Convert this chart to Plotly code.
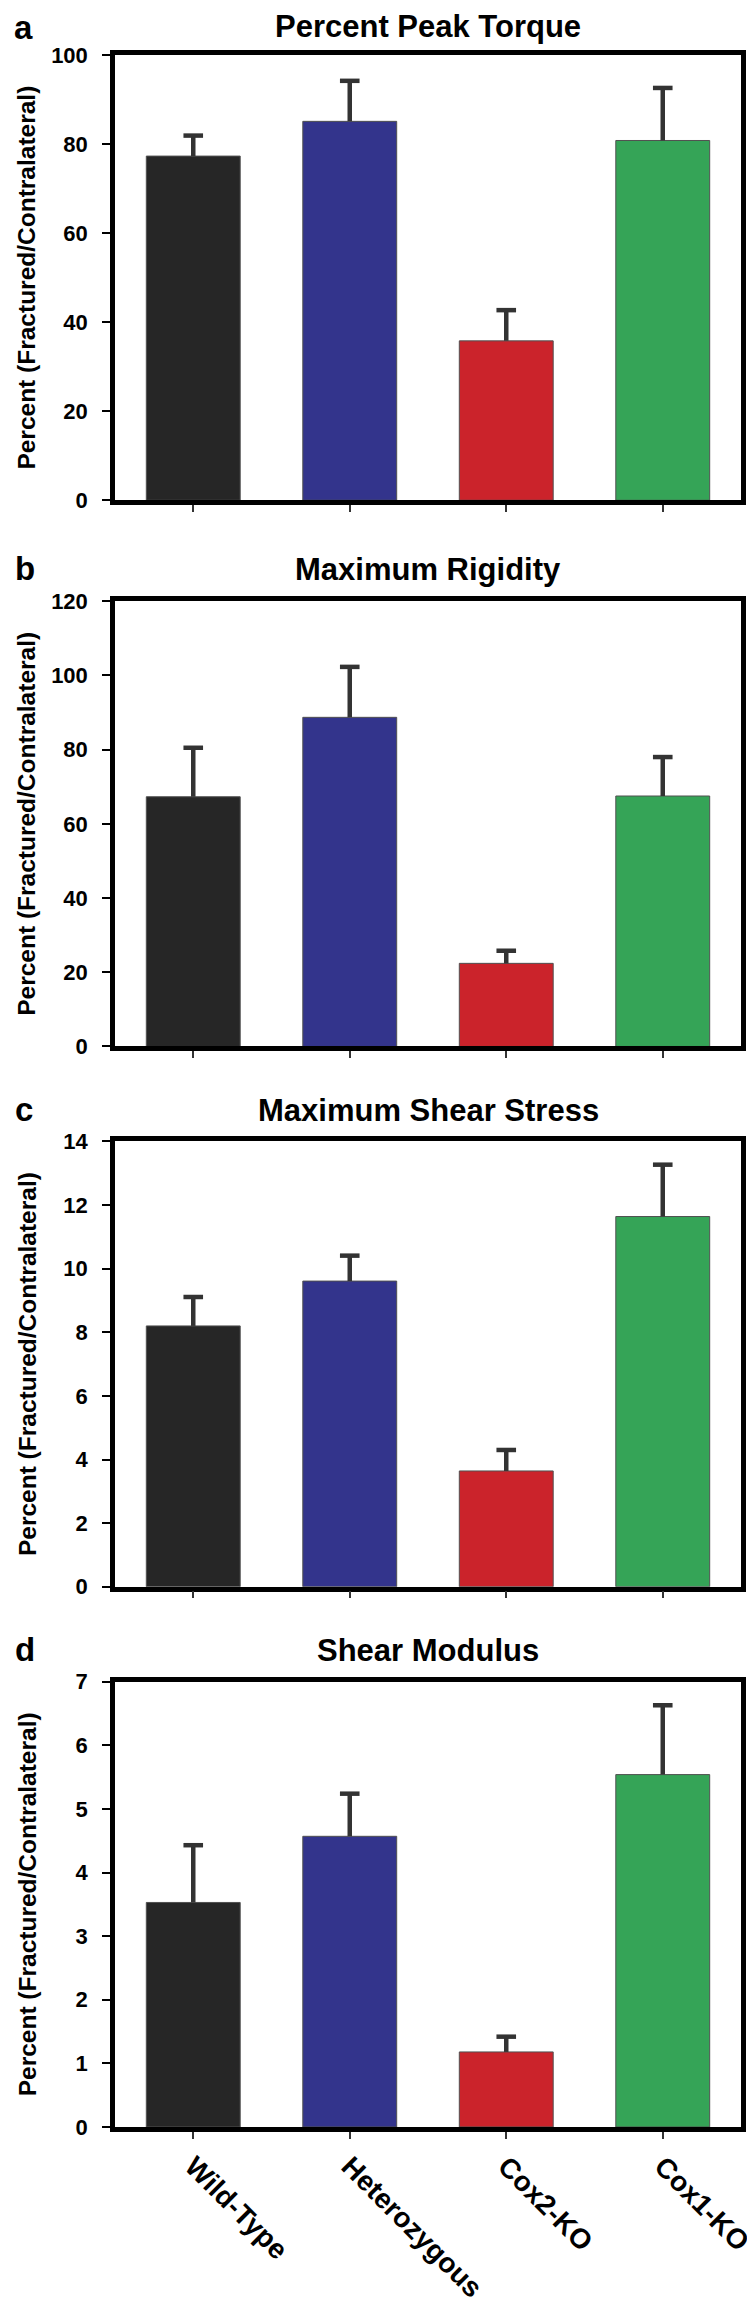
import plotly.graph_objects as go

categories = ["Wild-Type", "Heterozygous", "Cox2-KO", "Cox1-KO"]
bar_colors = ["#262626", "#33348C", "#CB232B", "#35A457"]

panel_letters = ["a", "b", "c", "d"]
panel_titles = ["Percent Peak Torque", "Maximum Rigidity", "Maximum Shear Stress", "Shear Modulus"]

torque_mean = [77.3, 85.1, 35.8, 80.8]
torque_err = [4.6, 9.1, 6.9, 11.8]

rigidity_mean = [67.3, 88.7, 22.4, 67.5]
rigidity_err = [13.2, 13.6, 3.4, 10.5]

shear_stress_mean = [8.2, 9.61, 3.64, 11.64]
shear_stress_err = [0.91, 0.80, 0.66, 1.63]

shear_modulus_mean = [3.53, 4.57, 1.18, 5.54]
shear_modulus_err = [0.90, 0.67, 0.24, 1.09]

y_max = [100, 120, 14, 7]
y_dtick = [20, 20, 2, 1]
y_title = "Percent (Fractured/Contralateral)"

means = [torque_mean, rigidity_mean, shear_stress_mean, shear_modulus_mean]
errs = [torque_err, rigidity_err, shear_stress_err, shear_modulus_err]

W, HT = 755, 2303
M_T, M_B, M_L, M_R = 47, 162, 107, 8
H = HT - M_T - M_B
PW = W - M_L - M_R
panel_tops = [0, 552, 1098, 1644]
PH = 450

FONT = "Liberation Sans, Arial, Helvetica, sans-serif"
ERR_COLOR = "#333333"

fig = go.Figure()
layout = dict(
    width=W, height=HT,
    margin=dict(t=M_T, b=M_B, l=M_L, r=M_R, pad=0),
    paper_bgcolor="white", plot_bgcolor="white",
    showlegend=False,
    font=dict(family=FONT, color="black"),
)
annotations = []
fig_top = 1 + M_T / H

for i in range(4):
    sfx = "" if i == 0 else str(i + 1)
    top = panel_tops[i]
    dom = [1 - (top + PH) / H, 1 - top / H]
    # bars with the error stem (no caps)
    fig.add_trace(go.Bar(
        x=categories, y=means[i],
        marker=dict(color=bar_colors, line=dict(color="#505050", width=1)),
        width=0.6,
        error_y=dict(type="data", symmetric=False, array=errs[i],
                     arrayminus=[0] * 4, color=ERR_COLOR, thickness=4.5, width=0),
        xaxis="x" + sfx, yaxis="y" + sfx,
    ))
    # caps at the top of each error bar
    tops = [m + e for m, e in zip(means[i], errs[i])]
    fig.add_trace(go.Scatter(
        x=categories, y=tops, mode="markers",
        marker=dict(symbol="line-ew-open", size=14, color=ERR_COLOR,
                    line=dict(color=ERR_COLOR, width=4.5)),
        xaxis="x" + sfx, yaxis="y" + sfx, cliponaxis=False,
    ))
    layout["xaxis" + sfx] = dict(
        domain=[0, 1], anchor="y" + sfx, type="category",
        categoryorder="array", categoryarray=categories,
        range=[-0.5, 3.5],
        showline=True, linecolor="black", linewidth=4.5, mirror=True,
        ticks="outside", ticklen=7, tickwidth=1.5, tickcolor="#333333",
        showgrid=False, zeroline=False,
        showticklabels=(i == 3), tickangle=45,
        tickfont=dict(family=FONT, size=28, color="black", weight="bold"),
    )
    layout["yaxis" + sfx] = dict(
        domain=dom, anchor="x" + sfx,
        range=[0, y_max[i]], dtick=y_dtick[i], tick0=0,
        showline=True, linecolor="black", linewidth=4.5, mirror=True,
        ticks="outside", ticklen=8, tickwidth=2, tickcolor="black",
        showgrid=False, zeroline=False,
        ticklabelstandoff=10,
        tickfont=dict(family=FONT, size=22, color="black", weight="bold"),
    )
    if i == 0:
        title_pos = dict(y=fig_top, yanchor="top", borderpad=0)
        letter_pos = dict(y=fig_top, yanchor="top", borderpad=0)
    else:
        title_pos = dict(y=1 - (top - 12) / H, yanchor="bottom")
        letter_pos = dict(y=1 - (top - 12) / H, yanchor="bottom")
    # panel title
    annotations.append(dict(
        text="<b>%s</b>" % panel_titles[i], xref="paper", yref="paper",
        x=0.5, xanchor="center", showarrow=False,
        font=dict(family=FONT, size=31, color="black"), **title_pos,
    ))
    # panel letter
    annotations.append(dict(
        text="<b>%s</b>" % panel_letters[i], xref="paper", yref="paper",
        x=(3 - M_L) / PW, xanchor="left", showarrow=False,
        font=dict(family=FONT, size=33, color="black"), **letter_pos,
    ))
    # y-axis title
    annotations.append(dict(
        text="<b>%s</b>" % y_title, xref="paper", yref="paper",
        x=(17 - M_L) / PW, y=1 - (top + PH / 2) / H, xanchor="center", yanchor="middle",
        textangle=-90, showarrow=False,
        font=dict(family=FONT, size=24.5, color="black"),
    ))

layout["annotations"] = annotations
fig.update_layout(**layout)
fig.write_html("out.html")
